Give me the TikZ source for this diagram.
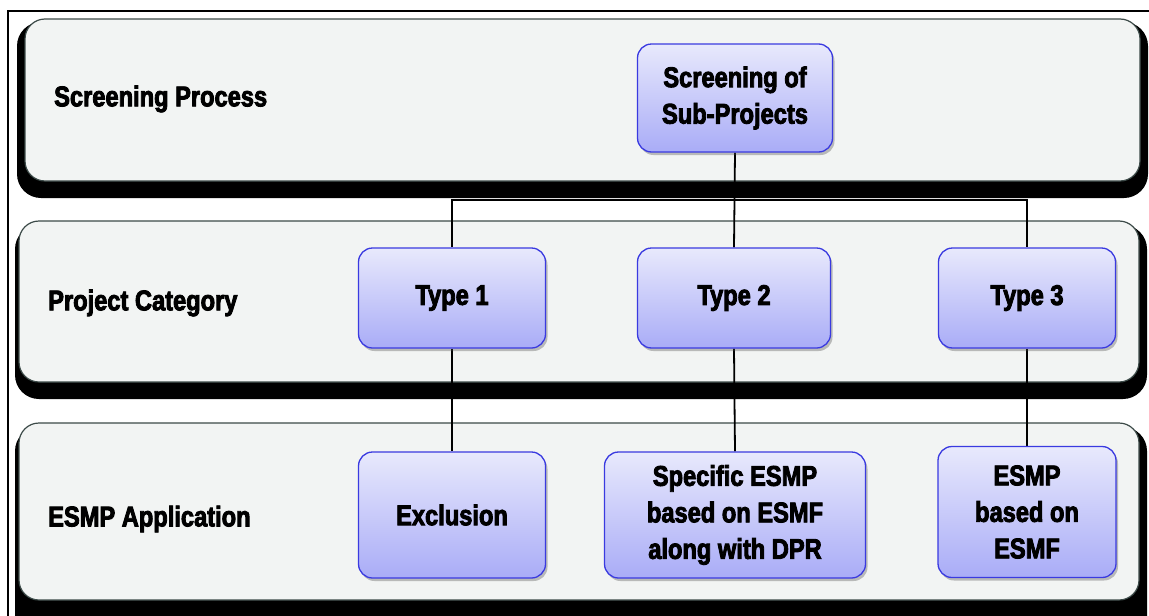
\documentclass[tikz,border=0pt]{standalone}
\usepackage{fontspec}
\newfontfamily\lbl{Liberation Sans}[FakeStretch=0.83, BoldFeatures={FakeBold=3}]
\usetikzlibrary{shadows}
\pgfdeclarelayer{bands}
\pgfdeclarelayer{wires}
\pgfsetlayers{bands,wires,main}
\definecolor{bandfill}{HTML}{F2F4F3}
\definecolor{bandline}{HTML}{3C4A48}
\definecolor{boxtop}{HTML}{E8E9FC}
\definecolor{boxbot}{HTML}{A9ACF7}
\definecolor{boxline}{HTML}{3A3AE0}
\tikzset{
  bandshadow/.style={fill=black, rounded corners=24},
  bandbody/.style={fill=bandfill, draw=bandline, line width=1.2pt, rounded corners=20},
  rowlabel/.style={anchor=west, inner sep=0pt, font=\lbl\bfseries\fontsize{28.5}{33}\selectfont},
  stepbox/.style={draw=boxline, line width=1.3pt, rounded corners=14,
    top color=boxtop, bottom color=boxbot, align=center, inner sep=2pt,
    font=\lbl\bfseries\fontsize{28.5}{36.5}\selectfont,
    drop shadow={shadow xshift=2pt, shadow yshift=-3pt, opacity=0.35, fill=black!70}},
  wire/.style={draw=black, line width=1.8pt}
}
\begin{document}
\begin{tikzpicture}[x=1pt, y=-1pt]
\useasboundingbox (0,0) rectangle (1149,616);

% white page, outer frame and the three horizontal bands
\begin{pgfonlayer}{bands}
  \fill[white] (0,0) rectangle (1149,616);
  \draw[line width=2.2pt] (8,616) -- (8,11) -- (1149,11);
  \fill[bandshadow] (17,22) rectangle (1148,198);
  \draw[bandbody] (25,19) rectangle (1140,181);
  \fill[bandshadow] (15,225) rectangle (1147,399);
  \draw[bandbody] (19,221) rectangle (1139,382);
  \fill[bandshadow] (15,427) rectangle (1147,640);
  \draw[bandbody] (19,423) rectangle (1139,600);
\end{pgfonlayer}

% row titles
\node[rowlabel] (l1) at (54,99) {Screening Process};
\node[rowlabel] (l2) at (48,303) {Project Category};
\node[rowlabel] (l3) at (48,519) {ESMP Application};

% process boxes
\node[stepbox, minimum width=195, minimum height=108] (scr) at (735,98) {Screening of\\Sub-Projects};
\node[stepbox, minimum width=187, minimum height=100] (t1) at (452,298) {Type 1};
\node[stepbox, minimum width=193, minimum height=100] (t2) at (734,298) {Type 2};
\node[stepbox, minimum width=177, minimum height=100] (t3) at (1027,298) {Type 3};
\node[stepbox, minimum width=187, minimum height=126] (ex) at (452,515) {Exclusion};
\node[stepbox, minimum width=261, minimum height=126] (sp) at (735,515) {Specific ESMP\\based on ESMF\\along with DPR};
\node[stepbox, minimum width=178, minimum height=131] (es) at (1027,512) {ESMP\\based on\\ESMF};

% connectors
\coordinate (bus) at (735,200);
\begin{pgfonlayer}{wires}
  \draw[wire] (scr.south) -- (t2.north);
  \draw[wire] (t1.north) |- (bus) -| (t3.north);
  \draw[wire] (t1.south) -- (ex.north);
  \draw[wire] (t2.south) -- (sp.north);
  \draw[wire] (t3.south) -- (es.north);
\end{pgfonlayer}
\end{tikzpicture}
\end{document}
